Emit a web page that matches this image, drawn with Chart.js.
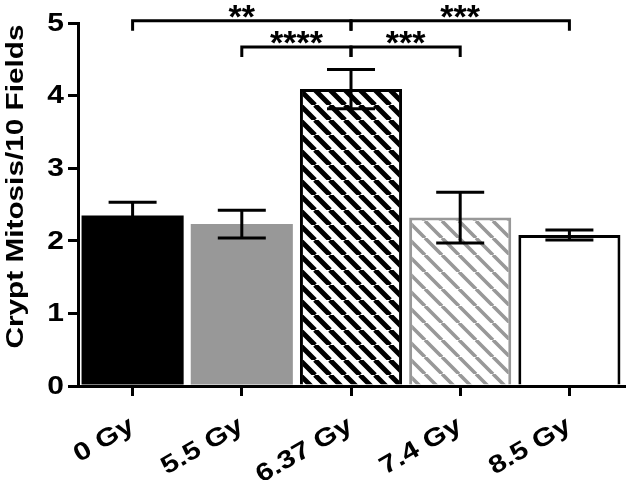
<!DOCTYPE html>
<html>
<head>
<meta charset="utf-8">
<script src="https://cdn.jsdelivr.net/npm/chart.js@4/dist/chart.umd.min.js"></script>
<style>
  html, body { margin: 0; padding: 0; background: #fff; }
  #wrap { width: 628px; height: 480px; }
</style>
</head>
<body>
<div id="wrap"><canvas id="myChart" width="628" height="480"></canvas></div>
<script>
// data
var categories = ['0 Gy', '5.5 Gy', '6.37 Gy', '7.4 Gy', '8.5 Gy'];
var means      = [2.35, 2.23, 4.09, 2.32, 2.08];
var sem        = [0.18, 0.19, 0.27, 0.35, 0.07];
var yTicks     = [0, 1, 2, 3, 4, 5];
var yTitle     = 'Crypt Mitosis/10 Fields';
// significance brackets: index a vs index b, stars, bracket level (y units)
var compA      = [0, 2, 1, 2];
var compB      = [2, 4, 2, 3];
var compStars  = ['**', '***', '****', '***'];
var compLevel  = [5.03, 5.03, 4.67, 4.67];

var FONT = '"Liberation Sans", Arial, sans-serif';
var GRAY = '#989898';
var WIDE = 1.2;   // the figure's lettering is a wide bold sans

// diagonal hatch ("\") as a canvas pattern
function stripes(color, period, lw) {
    var c = document.createElement('canvas');
    c.width = period; c.height = period;
    var g = c.getContext('2d');
    g.fillStyle = '#fff';
    g.fillRect(0, 0, period, period);
    g.strokeStyle = color;
    g.lineWidth = lw;
    g.beginPath();
    for (var k = -1; k <= 1; k++) {
        g.moveTo(k * period, 0);
        g.lineTo(k * period + period, period);
    }
    g.stroke();
    return g.createPattern(c, 'repeat');
}

var fills   = ['#000', GRAY, stripes('#000', 15, 5), stripes(GRAY, 17, 3.6), '#fff'];
var borders = ['#000', GRAY, '#000', GRAY, '#000'];
var bwidths = [0, 0, 3, 3, 3];

var errorBars = {
    id: 'errorBars',
    afterDatasetsDraw: function (chart) {
        var ctx = chart.ctx, y = chart.scales.y;
        var meta = chart.getDatasetMeta(0);
        ctx.save();
        ctx.strokeStyle = '#000';
        ctx.lineWidth = 3;
        meta.data.forEach(function (bar, i) {
            var x = bar.x;
            var hi = y.getPixelForValue(means[i] + sem[i]);
            var lo = y.getPixelForValue(means[i] - sem[i]);
            ctx.beginPath();
            ctx.moveTo(x, hi); ctx.lineTo(x, lo);
            ctx.moveTo(x - 24, hi); ctx.lineTo(x + 24, hi);
            ctx.moveTo(x - 24, lo); ctx.lineTo(x + 24, lo);
            ctx.stroke();
        });
        ctx.restore();
    }
};

var brackets = {
    id: 'brackets',
    afterDraw: function (chart) {
        var ctx = chart.ctx, x = chart.scales.x, y = chart.scales.y;
        ctx.save();
        ctx.strokeStyle = '#000';
        ctx.fillStyle = '#000';
        ctx.lineWidth = 3;
        ctx.font = 'bold 34px ' + FONT;
        ctx.textAlign = 'center';
        ctx.textBaseline = 'alphabetic';
        for (var i = 0; i < compA.length; i++) {
            var x1 = x.getPixelForValue(compA[i]);
            var x2 = x.getPixelForValue(compB[i]);
            var yy = y.getPixelForValue(compLevel[i]);
            ctx.beginPath();
            ctx.moveTo(x1, yy + 10); ctx.lineTo(x1, yy);
            ctx.lineTo(x2, yy); ctx.lineTo(x2, yy + 10);
            ctx.stroke();
            ctx.fillText(compStars[i], (x1 + x2) / 2, yy + 7);
        }
        ctx.restore();
    }
};

// tick labels and y title, drawn at the scales' own positions
var labels = {
    id: 'labels',
    afterDraw: function (chart) {
        var ctx = chart.ctx, x = chart.scales.x, y = chart.scales.y, a = chart.chartArea;
        ctx.save();
        ctx.fillStyle = '#000';

        // x categories, slanted
        ctx.font = 'bold 25px ' + FONT;
        ctx.textAlign = 'right';
        ctx.textBaseline = 'alphabetic';
        categories.forEach(function (c, i) {
            ctx.save();
            ctx.translate(x.getPixelForValue(i) + 3, a.bottom + 44);
            ctx.rotate(-30 * Math.PI / 180);
            ctx.scale(WIDE, 1);
            ctx.fillText(c, 0, 0);
            ctx.restore();
        });

        // y ticks
        ctx.font = 'bold 25px ' + FONT;
        ctx.textBaseline = 'middle';
        yTicks.forEach(function (v) {
            ctx.save();
            ctx.translate(a.left - 14, y.getPixelForValue(v) + 1);
            ctx.scale(WIDE, 1);
            ctx.fillText(String(v), 0, 0);
            ctx.restore();
        });

        // y title
        ctx.font = 'bold 24px ' + FONT;
        ctx.textAlign = 'center';
        ctx.textBaseline = 'alphabetic';
        ctx.translate(23, (a.top + a.bottom) / 2 - 18);
        ctx.rotate(-Math.PI / 2);
        ctx.scale(1.24, 1);
        ctx.fillText(yTitle, 0, 0);
        ctx.restore();
    }
};

var ctx = document.getElementById('myChart');

var myChart = new Chart(ctx, {
    type: 'bar',
    data: {
        labels: categories,
        datasets: [{
            data: means,
            backgroundColor: fills,
            borderColor: borders,
            borderWidth: bwidths,
            borderSkipped: 'bottom',
            barPercentage: 0.935,
            categoryPercentage: 1.0
        }]
    },
    options: {
        responsive: false,
        animation: false,
        devicePixelRatio: 1,
        layout: { padding: { top: 23, right: 4, left: 0, bottom: 0 } },
        plugins: {
            legend: { display: false },
            tooltip: { enabled: false }
        },
        scales: {
            x: {
                offset: true,
                grid: {
                    offset: false,
                    drawOnChartArea: false,
                    drawTicks: true,
                    tickLength: 10,
                    color: '#000',
                    lineWidth: 3
                },
                border: { display: true, color: '#000', width: 3 },
                ticks: { display: false },
                afterFit: function (s) { s.height = 94; }
            },
            y: {
                min: 0,
                max: 5,
                afterBuildTicks: function (s) {
                    s.ticks = yTicks.map(function (v) { return { value: v }; });
                },
                grid: {
                    drawOnChartArea: false,
                    drawTicks: true,
                    tickLength: 10,
                    color: '#000',
                    lineWidth: 3
                },
                border: { display: true, color: '#000', width: 3 },
                ticks: { display: false },
                afterFit: function (s) { s.width = 78; }
            }
        }
    },
    plugins: [errorBars, brackets, labels]
});
</script>
</body>
</html>
